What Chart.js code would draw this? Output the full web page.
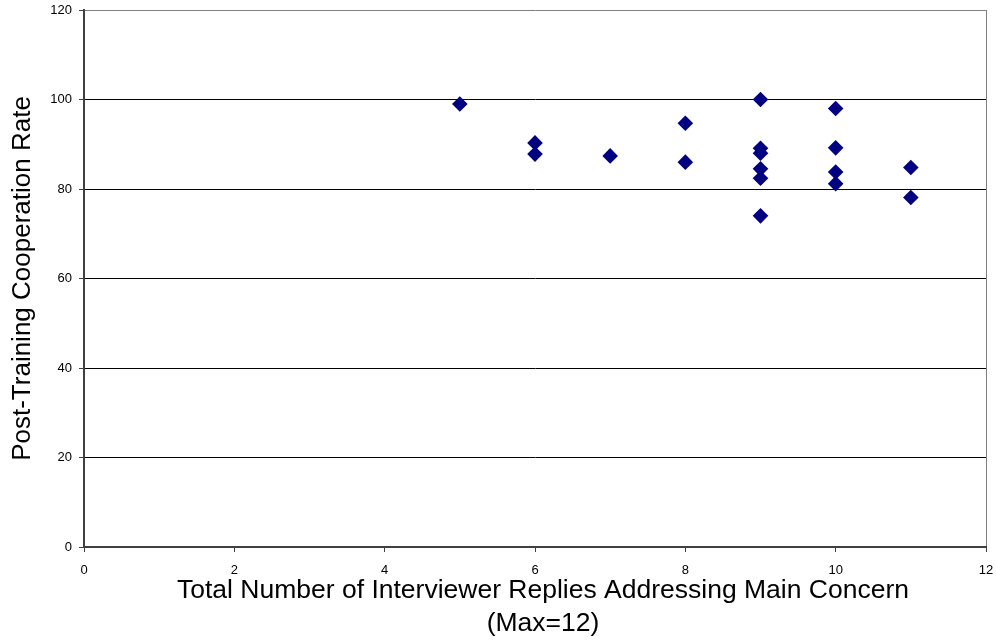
<!DOCTYPE html>
<html>
<head>
<meta charset="utf-8">
<script src="https://cdn.jsdelivr.net/npm/chart.js@4/dist/chart.umd.min.js"></script>
<style>
html,body{margin:0;padding:0;background:#fff;}
#wrap{width:996px;height:641px;position:relative;}
</style>
</head>
<body>
<div id="wrap"><canvas id="c" width="996" height="641"></canvas></div>
<script>
const replies = [5, 6, 6, 7, 8, 8, 9, 9, 9, 9, 9, 9, 10, 10, 10, 10, 11, 11];
const cooperationRate = [99, 90.3, 87.8, 87.4, 94.7, 86.0, 100, 89.1, 88.0, 84.5, 82.4, 74.0, 98.0, 89.2, 83.8, 81.2, 84.8, 78.1];
const xTitle = ['Total Number of Interviewer Replies Addressing Main Concern', '(Max=12)'];
const yTitle = 'Post-Training Cooperation Rate';

const points = replies.map((x, i) => ({x: x, y: cooperationRate[i]}));
const FONT = "'Liberation Sans', Arial, sans-serif";

const xTitlePlugin = {
  id: 'xTitlePlugin',
  afterDraw(chart) {
    const ctx = chart.ctx;
    const ca = chart.chartArea;
    const cx = (ca.left + ca.right) / 2 + 8;
    ctx.save();
    ctx.fillStyle = '#000';
    ctx.font = "26.5px " + FONT;
    ctx.textAlign = 'center';
    ctx.textBaseline = 'alphabetic';
    ctx.fillText(xTitle[0], cx, ca.bottom + 51);
    ctx.fillText(xTitle[1], cx, ca.bottom + 84);
    ctx.restore();
  }
};

new Chart(document.getElementById('c'), {
  type: 'scatter',
  data: {
    datasets: [{
      data: points,
      pointStyle: 'rectRot',
      pointRadius: 7.8,
      pointHoverRadius: 7.8,
      backgroundColor: '#000080',
      borderColor: '#000080',
      borderWidth: 0
    }]
  },
  plugins: [xTitlePlugin],
  options: {
    responsive: false,
    animation: false,
    devicePixelRatio: 1,
    layout: {padding: {top: 10, right: 10, left: 0, bottom: 0}},
    plugins: {legend: {display: false}, tooltip: {enabled: false}},
    scales: {
      x: {
        type: 'linear', min: 0, max: 12,
        ticks: {stepSize: 2, color: '#000', font: {family: FONT, size: 13}, padding: 11, maxRotation: 0},
        grid: {
          color: (c) => (c.tick && c.tick.value === 12) ? '#808080' : 'rgba(0,0,0,0)',
          tickColor: '#404040', tickLength: 5, lineWidth: 1
        },
        border: {color: '#404040', width: 2},
        title: {display: false},
        afterFit: (s) => { s.height = 94; s.paddingLeft = 0; s.paddingRight = 0; }
      },
      y: {
        type: 'linear', min: 0, max: 120,
        ticks: {stepSize: 20, color: '#000', font: {family: FONT, size: 13}, padding: 7},
        grid: {
          color: (c) => (c.tick && c.tick.value === 120) ? '#808080' : '#000',
          tickColor: '#404040', tickLength: 5, lineWidth: 1
        },
        border: {color: '#404040', width: 2},
        title: {display: true, text: yTitle, color: '#000', font: {family: FONT, size: 26}, padding: {top: 7, bottom: 0}},
        afterFit: (s) => { s.width = 84; s.paddingTop = 0; s.paddingBottom = 0; }
      }
    }
  }
});
</script>
</body>
</html>
